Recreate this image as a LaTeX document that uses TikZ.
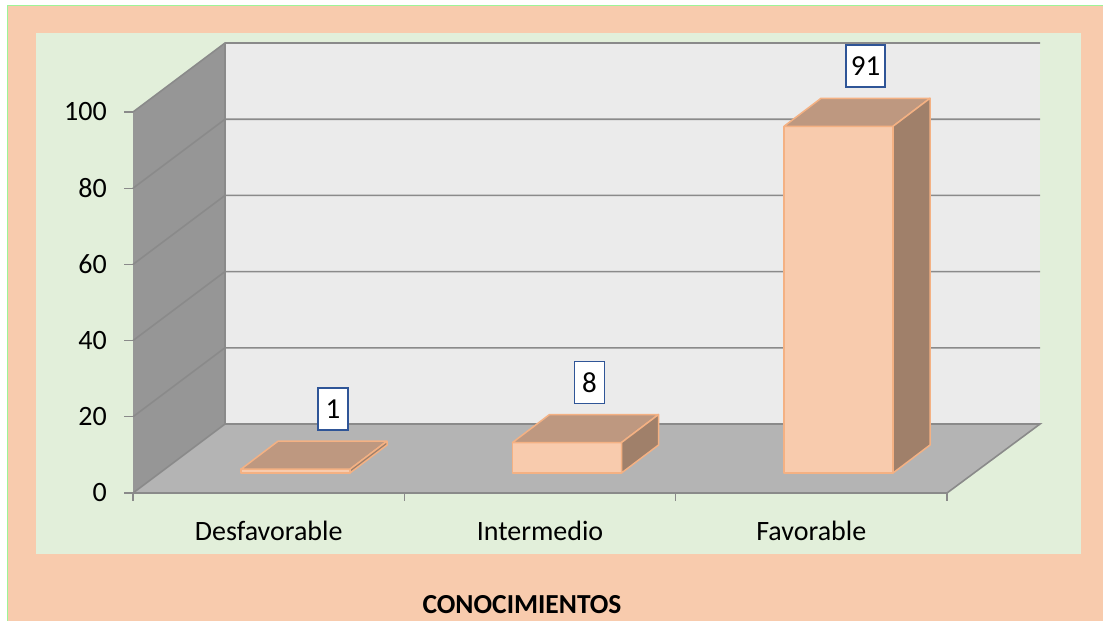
\documentclass[tikz,border=0pt]{standalone}
\usepackage{fontspec}
\setmainfont{Carlito}
\usetikzlibrary{positioning,calc}
\definecolor{peach}{HTML}{F8CBAD}
\definecolor{plotgreen}{HTML}{E2EFDA}
\definecolor{wallback}{HTML}{EBEBEB}
\definecolor{wallleft}{HTML}{969696}
\definecolor{wallfloor}{HTML}{B4B4B4}
\definecolor{gridgray}{HTML}{8A8A8A}
\definecolor{baredge}{HTML}{F4B183}
\definecolor{bartop}{HTML}{BE9880}
\definecolor{barside}{HTML}{A0806A}
\definecolor{boxblue}{HTML}{2F5597}
\tikzset{%
  gridline/.style = { draw = gridgray, line width = 1.6pt },
  tickline/.style = { draw = gridgray, line width = 1.2pt },
  barface/.style  = { fill = #1, draw = baredge, line width = 1.5pt, line join = round },
  axislabel/.style= { font = \fontsize{28}{33}\selectfont, inner sep = 0pt },
  valbox/.style   = { fill = white, draw = boxblue, line width = 1.6pt, align = center,
                      font = \fontsize{29}{33}\selectfont,
                      minimum width = 30pt, minimum height = 42pt, inner xsep = 5pt }
}
\begin{document}
\begin{tikzpicture}[x=1pt,y=-1pt]
\useasboundingbox (0,0) rectangle (1103,621);
% backgrounds
\fill[white] (0,0) rectangle (1103,621);
\fill[peach] (7,5) rectangle (1103,621);
\draw[plotgreen!70!green, line width=0.8pt] (7,621) -- (7,5) -- (1103,5);
\fill[plotgreen] (36,33) rectangle (1081,554);

% walls and floor
\fill[wallback] (225,43) rectangle (1040,424);
\fill[wallleft] (225,43) -- (133,112) -- (133,493) -- (225,424) -- cycle;
\fill[wallfloor] (133,493) -- (225,424) -- (1040,424) -- (947,493) -- cycle;
\foreach \v in {20,40,...,100}{
  \pgfmathsetmacro\yb{424-\v*3.81}
  \draw[gridline] (133,\yb+69) -- (225,\yb) -- (1040,\yb);
}
\draw[gridline] (133,493) -- (225,424) -- (1040,424) -- (947,493) -- cycle;
\draw[gridline] (225,43) -- (225,424);

% value axis
\foreach \v in {0,20,...,100}{
  \pgfmathsetmacro\yf{493-\v*3.81}
  \draw[tickline] (124,\yf) -- (133,\yf);
  \node[axislabel, anchor=east] (tick-\v) at (107,\yf) {\v};
}
% category axis
\draw[tickline] (133,493) -- (947,493);
\foreach \x in {133,404.3,675.7,947}
  \draw[tickline] (\x,493) -- (\x,501);
\node[axislabel] (cat-des) at (268.7,531) {Desfavorable};
\node[axislabel] (cat-int) at (540,531)   {Intermedio};
\node[axislabel] (cat-fav) at (811.3,531) {Favorable};

% bars
\foreach \name/\x/\v/\lx in {des/241/1/333, int/512.5/8/589.5, fav/784/91/865.5}{
  \pgfmathsetmacro\h{\v*3.81}
  \draw[barface=peach] (\x,473-\h) rectangle (\x+109,473);
  \draw[barface=bartop] (\x,473-\h) -- (\x+37,445-\h) -- (\x+146,445-\h) -- (\x+109,473-\h) -- cycle;
  \draw[barface=barside] (\x+109,473) -- (\x+109,473-\h) -- (\x+146,445-\h) -- (\x+146,445) -- cycle;
  \node[valbox] (val-\name) at (\lx,413-\h) {\v};
}

% title
\node[font=\fontsize{27.5}{32}\selectfont\bfseries, anchor=base] (title) at (522,613) {CONOCIMIENTOS};
\end{tikzpicture}
\end{document}
